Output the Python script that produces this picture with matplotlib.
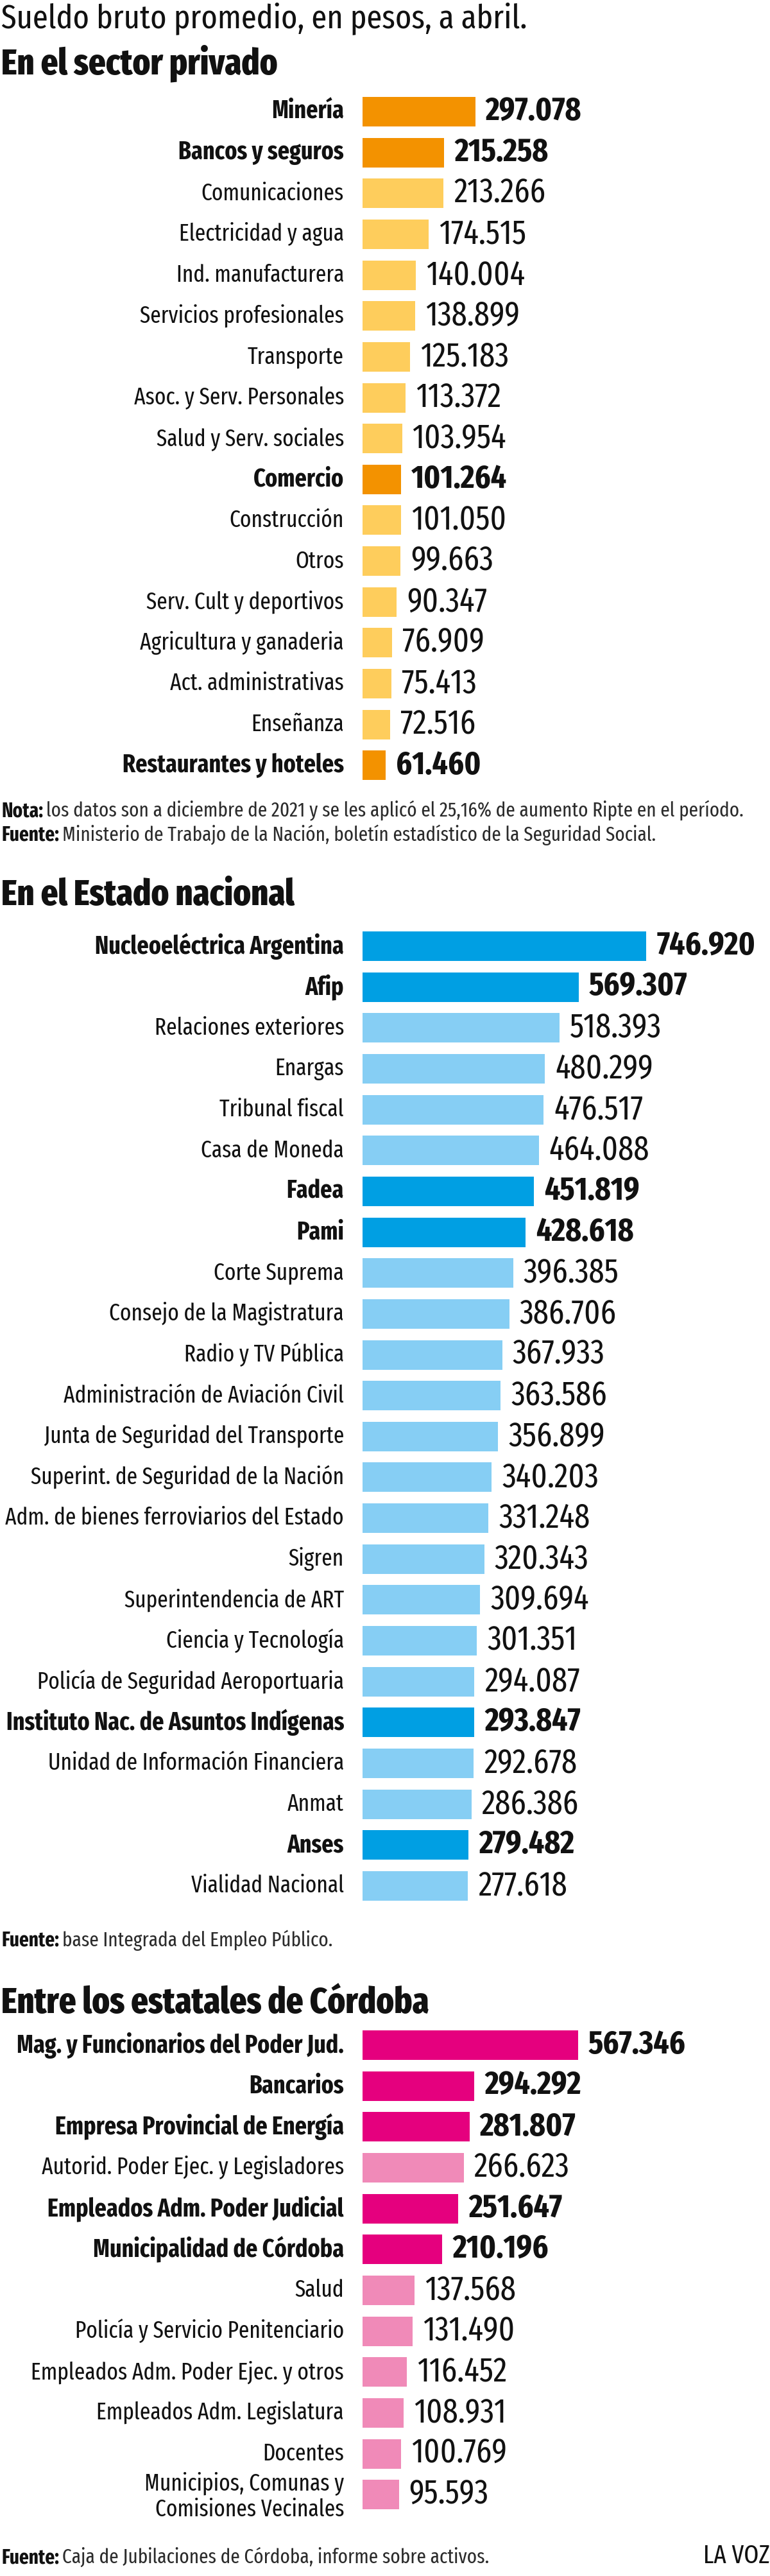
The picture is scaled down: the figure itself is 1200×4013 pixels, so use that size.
import matplotlib
matplotlib.use("Agg")
import matplotlib.pyplot as plt
from matplotlib import font_manager as fm

# ---------------- data ----------------
priv_labels = ["Minería", "Bancos y seguros", "Comunicaciones", "Electricidad y agua",
               "Ind. manufacturera", "Servicios profesionales", "Transporte",
               "Asoc. y Serv. Personales", "Salud y Serv. sociales", "Comercio",
               "Construcción", "Otros", "Serv. Cult y deportivos",
               "Agricultura y ganaderia", "Act. administrativas", "Enseñanza",
               "Restaurantes y hoteles"]
priv_values = [297078, 215258, 213266, 174515, 140004, 138899, 125183, 113372,
               103954, 101264, 101050, 99663, 90347, 76909, 75413, 72516, 61460]
priv_hi = ["Minería", "Bancos y seguros", "Comercio", "Restaurantes y hoteles"]

nac_labels = ["Nucleoeléctrica Argentina", "Afip", "Relaciones exteriores", "Enargas",
              "Tribunal fiscal", "Casa de Moneda", "Fadea", "Pami", "Corte Suprema",
              "Consejo de la Magistratura", "Radio y TV Pública",
              "Administración de Aviación Civil", "Junta de Seguridad del Transporte",
              "Superint. de Seguridad de la Nación",
              "Adm. de bienes ferroviarios del Estado", "Sigren",
              "Superintendencia de ART", "Ciencia y Tecnología",
              "Policía de Seguridad Aeroportuaria",
              "Instituto Nac. de Asuntos Indígenas",
              "Unidad de Información Financiera", "Anmat", "Anses", "Vialidad Nacional"]
nac_values = [746920, 569307, 518393, 480299, 476517, 464088, 451819, 428618, 396385,
              386706, 367933, 363586, 356899, 340203, 331248, 320343, 309694, 301351,
              294087, 293847, 292678, 286386, 279482, 277618]
nac_hi = ["Nucleoeléctrica Argentina", "Afip", "Fadea", "Pami",
          "Instituto Nac. de Asuntos Indígenas", "Anses"]

cba_labels = ["Mag. y Funcionarios del Poder Jud.", "Bancarios",
              "Empresa Provincial de Energía", "Autorid. Poder Ejec. y Legisladores",
              "Empleados Adm. Poder Judicial", "Municipalidad de Córdoba", "Salud",
              "Policía y Servicio Penitenciario", "Empleados Adm. Poder Ejec. y otros",
              "Empleados Adm. Legislatura", "Docentes",
              "Municipios, Comunas y\nComisiones Vecinales"]
cba_values = [567346, 294292, 281807, 266623, 251647, 210196, 137568, 131490,
              116452, 108931, 100769, 95593]
cba_hi = ["Mag. y Funcionarios del Poder Jud.", "Bancarios",
          "Empresa Provincial de Energía", "Empleados Adm. Poder Judicial",
          "Municipalidad de Córdoba"]

# ---------------- style ----------------
ORANGE, YELLOW = "#F39200", "#FECD5C"
BLUE, SKY = "#009FE3", "#86CEF4"
MAGENTA, PINK = "#E5007E", "#F08AB8"
INK = "#111111"


def pick_font():
    # a condensed family with static regular + bold files, else Liberation Sans
    prefs = ["Fira Sans Extra Condensed", "Fira Sans Condensed", "PT Sans Narrow",
             "Asap Condensed", "Archivo Narrow", "Liberation Sans Narrow",
             "Liberation Sans"]
    have = {}
    for f in fm.fontManager.ttflist:
        if f.style == "normal":
            have.setdefault(f.name, set()).add(f.weight)
    for p in prefs:
        w = have.get(p, set())
        if 400 in w and 700 in w:
            return p, (800 if 800 in w else 700)
    return "Liberation Sans", 700


FONT, HEAVY = pick_font()
plt.rcParams["font.family"] = [FONT, "DejaVu Sans"]

W, H, DPI = 1200, 4013, 100
PT = 72 / DPI                      # points per pixel
fig = plt.figure(figsize=(W / DPI, H / DPI), dpi=DPI)
fig.patch.set_facecolor("white")
R = fig.canvas.get_renderer()


def fit(s, target_px, **kw):
    t = fig.text(0, 0, s, fontsize=20, **kw)
    w = t.get_window_extent(renderer=R).width
    t.remove()
    return 20 * target_px / w


STEP = 63.65                       # px between bar centres
BAR_H = 46 / STEP
X0 = 565                           # px, bar baseline
SCALE = 5.92e-4                    # px per peso
LAB = fit("Adm. de bienes ferroviarios del Estado", 528)
LAB_B = fit("Instituto Nac. de Asuntos Indígenas", 527, fontweight="bold")
VAL = fit("213.266", 143)
VAL_B = fit("215.258", 147, fontweight="bold")
TITLE = fit("Sueldo bruto promedio, en pesos, a abril.", 819)
HEAD = fit("Entre los estatales de Córdoba", 666, fontweight=HEAVY)
NOTE = fit("los datos son a diciembre de 2021 y se les aplicó el 25,16% "
           "de aumento Ripte en el período.", 1089)
BRAND = fit("LA VOZ", 104)


def fmt(v):
    return f"{v:,}".replace(",", ".")


def section(labels, values, hi, c0, col_hi, col_lo):
    n = len(labels)
    top = c0 - STEP / 2
    ax = fig.add_axes([X0 / W, 1 - (top + n * STEP) / H, (W - X0) / W, n * STEP / H])
    ax.set_xlim(0, (W - X0) / SCALE)
    ax.set_ylim(n - 0.5, -0.5)
    ax.axis("off")
    cols = [col_hi if l in hi else col_lo for l in labels]
    ax.barh(range(n), values, height=BAR_H, color=cols, lw=0)
    for i, (l, v) in enumerate(zip(labels, values)):
        b = l in hi
        w = "bold" if b else "normal"
        ls = LAB_B if b else LAB
        if "\n" in l:
            ax.annotate(l, (0, i - 0.56), xytext=(-29 * PT, 0), textcoords="offset points",
                        ha="right", va="top", multialignment="right",
                        fontsize=ls, fontweight=w, color=INK, linespacing=1.15)
        else:
            ax.annotate(l, (0, i), xytext=(-29 * PT, 0), textcoords="offset points",
                        ha="right", va="center", fontsize=ls, fontweight=w, color=INK)
        ax.annotate(fmt(v), (v, i), xytext=(16 * PT, 0), textcoords="offset points",
                    ha="left", va="center", fontsize=VAL_B if b else VAL,
                    fontweight=w, color=INK)
    return ax


def ftext(x, y, s, color=INK, **kw):
    return fig.text(x / W, 1 - y / H, s, va="baseline", color=color, **kw)


def note(y, head, rest):
    t = ftext(2, y, head, fontsize=NOTE, fontweight="bold")
    bb = t.get_window_extent(renderer=R)
    ftext(bb.x1 + 5, y, rest, fontsize=NOTE, color="#2b2b2b")


# titles
ftext(2, 43, "Sueldo bruto promedio, en pesos, a abril.", fontsize=TITLE)
ftext(2, 115, "En el sector privado", fontsize=HEAD, fontweight=HEAVY)
ftext(2, 1410, "En el Estado nacional", fontsize=HEAD, fontweight=HEAVY)
ftext(2, 3136, "Entre los estatales de Córdoba", fontsize=HEAD, fontweight=HEAVY)

section(priv_labels, priv_values, priv_hi, 174, ORANGE, YELLOW)
section(nac_labels, nac_values, nac_hi, 1474, BLUE, SKY)
section(cba_labels, cba_values, cba_hi, 3186, MAGENTA, PINK)

note(1272, "Nota:", "los datos son a diciembre de 2021 y se les aplicó el 25,16% "
     "de aumento Ripte en el período.")
note(1310, "Fuente:", "Ministerio de Trabajo de la Nación, boletín estadístico "
     "de la Seguridad Social.")
note(3032, "Fuente:", "base Integrada del Empleo Público.")
note(3993, "Fuente:", "Caja de Jubilaciones de Córdoba, informe sobre activos.")
fig.text(1199 / W, 1 - 3993 / H, "LA VOZ", ha="right", va="baseline",
         fontsize=BRAND, color=INK)

fig.savefig("out.png", dpi=DPI, facecolor="white")
